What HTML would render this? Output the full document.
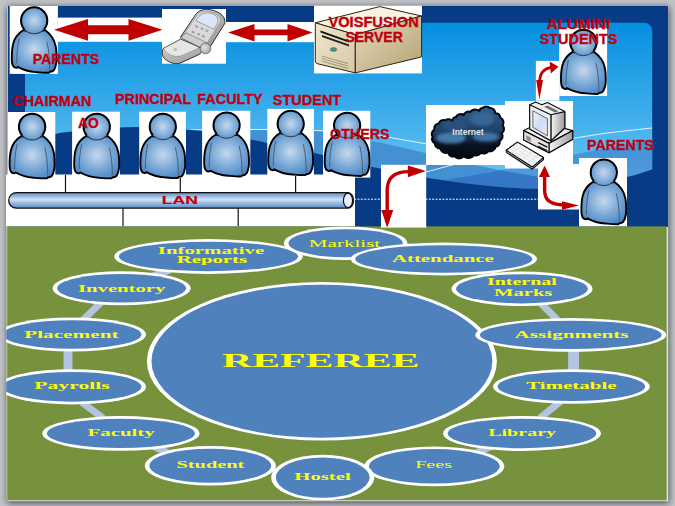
<!DOCTYPE html>
<html>
<head>
<meta charset="utf-8">
<title>Referee</title>
<style>
html,body{margin:0;padding:0;width:675px;height:506px;overflow:hidden;background:#c2c4c7;}
svg{display:block;position:absolute;left:0;top:0;}
.rl{font-family:"Liberation Sans",Arial,sans-serif;font-weight:bold;font-size:14.5px;fill:#c00010;stroke:#c00010;stroke-width:0.35px;}
.yl{font-family:"Liberation Serif","Times New Roman",serif;font-weight:bold;fill:#ffff00;}
</style>
</head>
<body>
<svg width="675" height="506" viewBox="0 0 675 506">
<defs>
  <linearGradient id="sky" gradientUnits="userSpaceOnUse" x1="0" y1="22.8" x2="0" y2="170">
    <stop offset="0" stop-color="#048fe0"/>
    <stop offset="1" stop-color="#62c0f2"/>
  </linearGradient>
  <radialGradient id="pg" cx="0.5" cy="0.45" r="0.6">
    <stop offset="0" stop-color="#c6d8ec"/>
    <stop offset="0.55" stop-color="#7caad8"/>
    <stop offset="1" stop-color="#4a86c4"/>
  </radialGradient>
  <radialGradient id="ph" cx="0.5" cy="0.5" r="0.55">
    <stop offset="0" stop-color="#c6d8ec"/>
    <stop offset="0.7" stop-color="#79a8d6"/>
    <stop offset="1" stop-color="#5690ca"/>
  </radialGradient>
  <linearGradient id="lan" x1="0" y1="0" x2="0" y2="1">
    <stop offset="0" stop-color="#5a8cc8"/>
    <stop offset="0.28" stop-color="#a6c2e5"/>
    <stop offset="0.45" stop-color="#d2e1f4"/>
    <stop offset="0.62" stop-color="#a6c2e5"/>
    <stop offset="1" stop-color="#5a8cc8"/>
  </linearGradient>
  <linearGradient id="cg" x1="0" y1="0" x2="0" y2="1">
    <stop offset="0" stop-color="#2f5f8d"/>
    <stop offset="0.5" stop-color="#1d3f62"/>
    <stop offset="0.75" stop-color="#081320"/>
    <stop offset="1" stop-color="#03070d"/>
  </linearGradient>
  <filter id="cb" x="-20%" y="-20%" width="140%" height="140%"><feGaussianBlur stdDeviation="1.6"/></filter>
  <linearGradient id="gr1" x1="0" y1="0" x2="1" y2="0">
    <stop offset="0" stop-color="#f6f6f6"/><stop offset="1" stop-color="#9a9a9a"/>
  </linearGradient>
  <linearGradient id="gr2" x1="0" y1="0" x2="1" y2="1">
    <stop offset="0" stop-color="#f3f6fb"/><stop offset="0.5" stop-color="#ccdcf2"/><stop offset="1" stop-color="#e8eef8"/>
  </linearGradient>
  <linearGradient id="sv1" x1="0" y1="0" x2="1" y2="1">
    <stop offset="0" stop-color="#e6dbbd"/><stop offset="1" stop-color="#b5a274"/>
  </linearGradient>
  <linearGradient id="sv2" x1="0" y1="0" x2="1" y2="1">
    <stop offset="0" stop-color="#f0e7cf"/><stop offset="1" stop-color="#d6c8a4"/>
  </linearGradient>
  <linearGradient id="phg1" x1="0" y1="0" x2="1" y2="1">
    <stop offset="0" stop-color="#dcdcdc"/><stop offset="1" stop-color="#8f8f8f"/>
  </linearGradient>
  <linearGradient id="phg2" x1="0" y1="0" x2="0.6" y2="1">
    <stop offset="0" stop-color="#d9d9d9"/><stop offset="1" stop-color="#a2a2a2"/>
  </linearGradient>
  <radialGradient id="phg3" cx="0.4" cy="0.4" r="0.7">
    <stop offset="0" stop-color="#e2e2e2"/><stop offset="1" stop-color="#9c9c9c"/>
  </radialGradient>
  <filter id="sh" x="-5%" y="-5%" width="110%" height="110%">
    <feGaussianBlur stdDeviation="3.6"/>
  </filter>
  <clipPath id="bclip"><rect x="6.2" y="226.2" width="660.6" height="274.3"/></clipPath>
  <g id="person">
    <path d="M13,24 C8,27 4,32 2.6,38 C1.4,43 1.2,48 1.3,53.6 C1.4,58.4 2.8,61.2 5.6,61.3 C6.4,61.3 6.9,60.9 7.3,60.4 C12,63 18,65.1 25.3,65.6 C30,66 34,66.4 38.2,66.3 C38.9,66.2 39.3,65.6 39.6,65 C42.2,65.6 44.1,63.4 45.1,59.6 C46.1,56.6 46.2,53.6 46.1,51.6 C46,46 45.8,42 45.1,40 C44,34 40,28 34.5,24 C30,25.5 18,25.5 13,24 Z" fill="url(#pg)" stroke="#000" stroke-width="1.9" stroke-linejoin="round"/>
    <path d="M8.7,32.2 C7,40 6.2,48 6.3,57" fill="none" stroke="#4c5564" stroke-width="0.9"/>
    <path d="M36.3,35.4 C38.5,44 39.2,54 39.2,63" fill="none" stroke="#4c5564" stroke-width="0.9"/>
    <circle cx="23.7" cy="14.7" r="13.1" fill="url(#ph)" stroke="#33383f" stroke-width="1"/>
    <path d="M13.73,23.2 A13.1,13.1 0 1 1 33.67,23.2" fill="none" stroke="#000" stroke-width="2"/>
  </g>
</defs>

<!-- outer shadow -->
<rect x="7" y="7" width="662" height="496" fill="#454950" filter="url(#sh)"/>
<rect x="7.4" y="6" width="660.8" height="495.2" fill="#dfe3e7"/>

<!-- ================= TOP PANEL ================= -->
<rect x="8" y="6" width="660" height="221" fill="#083b86"/>
<path d="M25,22.8 H644.2 A8,8 0 0 1 652.2,30.8 V200 H25 Z" fill="url(#sky)"/>

<!-- waves -->
<g id="waves">
  <path d="M186.0,130.3 C196.7,130.2 228.7,129.9 250.0,130.0 C271.3,130.1 298.2,130.2 314.0,131.0 C329.8,131.8 335.7,133.4 345.0,135.0 C354.3,136.6 360.8,138.8 370.0,140.8 C379.2,142.8 390.7,144.9 400.0,147.0 C409.3,149.1 417.7,151.2 426.0,153.2 C434.3,155.2 441.8,157.0 450.0,159.0 C458.2,161.0 465.8,163.0 475.0,165.0 C484.2,167.0 494.5,169.0 505.0,171.0 C515.5,173.0 528.8,175.3 538.0,177.0 C547.2,178.7 553.0,179.8 560.0,181.0 C567.0,182.2 576.7,183.5 580.0,184.0 L580,227 L186,227 Z" fill="#4390d3"/>
  <path d="M440.0,181.0 C441.7,180.7 442.7,180.5 450.0,179.3 C457.3,178.1 476.2,175.0 484.0,173.6 C491.8,172.2 488.5,172.7 497.0,170.9 C505.5,169.1 522.3,165.7 535.0,163.0 C547.7,160.3 560.5,157.4 573.0,154.8 C585.5,152.2 596.8,150.1 610.0,147.5 C623.2,144.9 645.0,140.7 652.0,139.3 L652,227 L440,227 Z" fill="#193ea4" fill-opacity="0.3"/>
  <path d="M186.0,130.0 C191.7,129.9 209.3,129.7 220.0,129.6 C230.7,129.5 239.2,129.5 250.0,129.5 C260.8,129.5 274.3,129.6 285.0,129.8 C295.7,130.0 304.0,130.2 314.0,130.5 C324.0,130.8 335.7,131.1 345.0,131.8 C354.3,132.5 362.7,133.6 370.0,134.5 C377.3,135.4 379.5,135.8 388.8,137.3 C398.1,138.9 415.0,142.0 426.0,143.8 C437.0,145.6 446.0,146.7 455.0,148.0 C464.0,149.3 472.5,150.5 480.0,151.5 C487.5,152.5 496.7,153.6 500.0,154.0" fill="none" stroke="#fff" stroke-width="0.9" opacity="0.95"/>
  <path d="M426.0,172.0 C430.4,170.8 443.4,167.2 452.4,165.0 C461.4,162.8 468.7,161.0 480.0,158.5 C491.3,156.0 508.3,152.6 520.0,150.0 C531.7,147.4 541.2,144.9 550.0,143.0 C558.8,141.1 563.0,140.1 573.0,138.4 C583.0,136.7 596.8,134.4 610.0,132.7 C623.2,131.0 645.0,128.8 652.0,128.0" fill="none" stroke="#fff" stroke-width="0.9" opacity="0.95"/>
  <path d="M8.0,150.0 C11.7,148.5 22.2,143.7 30.0,141.0 C37.8,138.3 48.0,135.6 55.0,134.0 C62.0,132.4 64.5,132.4 72.0,131.5 C79.5,130.6 92.0,129.2 100.0,128.5 C108.0,127.8 113.5,127.8 120.0,127.5 C126.5,127.2 131.5,127.0 139.0,127.0 C146.5,127.0 157.2,127.4 165.0,127.8 C172.8,128.2 179.8,129.0 186.0,129.5 C192.2,130.0 195.5,130.2 202.0,131.0 C208.5,131.8 217.0,133.1 225.0,134.5 C233.0,135.9 243.0,137.9 250.0,139.3 C257.0,140.7 260.3,141.5 267.0,143.0 C273.7,144.5 282.2,146.8 290.0,148.5 C297.8,150.2 308.5,151.9 314.0,153.0 C319.5,154.1 317.8,153.8 323.0,155.0 C328.2,156.2 337.2,158.1 345.0,160.0 C352.8,161.9 363.9,165.0 370.0,166.5 C376.1,168.0 376.5,167.8 381.5,168.8 C386.5,169.8 392.6,171.1 400.0,172.5 C407.4,173.9 416.8,175.9 426.0,177.5 C435.2,179.1 445.3,180.7 455.0,182.0 C464.7,183.3 474.8,184.6 484.0,185.6 C493.2,186.6 501.0,187.3 510.0,187.8 C519.0,188.3 526.3,189.1 538.0,188.7 C549.7,188.3 565.2,187.4 580.0,185.5 C594.8,183.6 615.0,179.7 627.0,177.0 C639.0,174.3 645.2,171.5 652.0,169.5 C658.8,167.5 665.3,165.8 668.0,165.0 L668,227 L8,227 Z" fill="#083b86"/>
  <line x1="354" y1="199.2" x2="540" y2="199.2" stroke="#fff" stroke-width="1" stroke-dasharray="2,1.4"/>
</g>

<!-- left dark column & top dark band are background -->
<rect x="8" y="42" width="17" height="70" fill="#083b86"/>

<!-- white boxes -->
<g fill="#fff">
  <rect x="9.7" y="6" width="48.2" height="67.9"/>
  <rect x="58" y="17.6" width="104" height="24.2"/>
  <rect x="162" y="9" width="64" height="54.7"/>
  <rect x="226" y="22" width="88" height="20.2"/>
  <rect x="314" y="5.7" width="108" height="67.7"/>
  <!-- people row -->
  <rect x="8" y="112" width="47.3" height="64"/>
  <rect x="72.1" y="111.7" width="47.8" height="65"/>
  <rect x="139.2" y="111.7" width="46.8" height="65"/>
  <rect x="202.1" y="110.8" width="48.2" height="65"/>
  <rect x="267.3" y="108.9" width="46.6" height="67"/>
  <rect x="323.1" y="110.8" width="47.2" height="66.8"/>
  <!-- LAN area -->
  <rect x="6" y="174.5" width="349" height="52"/>
  <!-- arrows / net -->
  <rect x="381" y="164.8" width="45.2" height="62.5"/>
  <rect x="426" y="105" width="79" height="60"/>
  <rect x="505" y="101" width="68" height="67.5"/>
  <rect x="538" y="164" width="41" height="45.5"/>
  <rect x="535.9" y="60.9" width="23.5" height="39.8"/>
  <rect x="559.2" y="27.9" width="47.9" height="68.1"/>
  <rect x="579" y="158" width="48" height="68.5"/>
</g>

<!-- LAN bar -->
<g>
  <line x1="65.5" y1="175" x2="65.5" y2="192" stroke="#111" stroke-width="1.2"/>
  <line x1="180.3" y1="178" x2="180.3" y2="192" stroke="#111" stroke-width="1.2"/>
  <line x1="295.6" y1="176" x2="295.6" y2="192" stroke="#111" stroke-width="1.2"/>
  <line x1="123" y1="208" x2="123" y2="226" stroke="#111" stroke-width="1.2"/>
  <line x1="238.2" y1="208" x2="238.2" y2="226" stroke="#111" stroke-width="1.2"/>
  <path d="M16.5,192.6 H348 A5.5,7.8 0 0 1 348,208.2 H16.5 A7.8,7.8 0 0 1 16.5,192.6 Z" fill="url(#lan)" stroke="#111" stroke-width="1.3"/>
  <ellipse cx="348" cy="200.4" rx="4.6" ry="7.2" fill="#e6eefc" stroke="#111" stroke-width="1.2"/>
  <text x="161.8" y="203.6" class="rl" style="font-size:10.6px;stroke-width:0.15px" textLength="36" lengthAdjust="spacingAndGlyphs">LAN</text>
</g>

<!-- persons -->
<use href="#person" transform="translate(10.5,5.7) scale(1.000,1.012)"/>
<use href="#person" transform="translate(8.3,112.1) scale(1.005,1.000)"/>
<use href="#person" transform="translate(72.9,112.1) scale(1.005,1.000)"/>
<use href="#person" transform="translate(139.1,112.1) scale(1.000,0.995)"/>
<use href="#person" transform="translate(202.9,110.8) scale(1.000,0.990)"/>
<use href="#person" transform="translate(267.0,109.2) scale(1.000,0.995)"/>
<use href="#person" transform="translate(323.4,111.1) scale(1.000,0.978)"/>
<use href="#person" transform="translate(559.7,28.1) scale(1.000,0.993)"/>
<use href="#person" transform="translate(580.1,157.9) scale(1.000,1.000)"/>

<!-- arrows -->
<g fill="#c00000">
  <path d="M54,29.7 L88,18.9 L88,25.2 L128.5,25.2 L128.5,18.9 L162.5,29.7 L128.5,40.8 L128.5,34.2 L88,34.2 L88,40.8 Z"/>
  <path d="M228,32.4 L254.5,24 L254.5,29.6 L287.5,29.6 L287.5,24 L312.5,32.4 L287.5,41.5 L287.5,35.3 L254.5,35.3 L254.5,41.5 Z"/>
  <!-- bent arrow 1 -->
  <path d="M387.2,227 L381.2,210 L393.3,210 Z"/>
  <path d="M425.9,171 L407.9,165.5 L407.9,177.3 Z"/>
  <!-- alumni arrow -->
  <path d="M539.4,99.4 L536.2,80 L543,80 Z"/>
  <path d="M558.5,66.7 L549.6,61.6 L550.8,73.4 Z"/>
  <!-- computer-parents arrow -->
  <path d="M544.6,165.6 L538.9,176.9 L550,176.9 Z"/>
  <path d="M579,205.4 L562,201.3 L562,209.7 Z"/>
</g>
<g fill="none" stroke="#c00000" stroke-width="3.4">
  <path d="M387.2,211 L387.2,190 C387.2,177 395,171.6 409,171.6"/>
  <path d="M539.6,81 C539.8,74.5 542,69 551,67.3" stroke-width="2.7"/>
  <path d="M544.6,176 L544.6,190 C544.6,201 551,204.6 564,205" stroke-width="3.4"/>
</g>

<!-- phone -->
<g id="phone" transform="translate(155,0) scale(0.1384)" stroke-linejoin="round">
  <path d="M58,352 L185,283 L335,345 L338,372 L322,392 L178,458 C140,468 80,445 60,412 C50,392 50,366 58,352 Z" fill="url(#phg2)" stroke="#2c2c2c" stroke-width="7"/>
  <path d="M62,350 L185,285 L325,343 L205,398 C150,420 88,400 62,350 Z" fill="#e6e6e6" stroke="#6a6a6a" stroke-width="3"/>
  <path d="M183,270 L290,110 C315,72 358,60 410,72 C472,88 515,122 503,172 L402,332 L330,347 Z" fill="url(#phg1)" stroke="#2c2c2c" stroke-width="7"/>
  <path d="M200,262 L302,114 C326,82 360,76 400,86 C450,99 480,126 470,160 L377,308 L332,328 Z" fill="#dadada" stroke="#7a7a7a" stroke-width="3"/>
  <path d="M296,150 C318,104 360,84 410,97 C452,112 462,140 447,175 L426,211 Z" fill="#dbe7f8" stroke="#5a5a5a" stroke-width="3.5"/>
  <path d="M185,272 L225,237 L372,307 L335,346 Z" fill="#cecece" stroke="#4a4a4a" stroke-width="3.5"/>
  <circle cx="365" cy="350" r="39" fill="url(#phg3)" stroke="#3a3a3a" stroke-width="4"/>
  <g fill="#9f9f9f" stroke="none">
    <rect x="290" y="185" width="22" height="14" transform="rotate(25 300 190)"/>
    <rect x="330" y="200" width="22" height="14" transform="rotate(25 340 205)"/>
    <rect x="365" y="215" width="22" height="14" transform="rotate(25 375 220)"/>
    <rect x="265" y="225" width="22" height="14" transform="rotate(25 275 230)"/>
    <rect x="305" y="240" width="22" height="14" transform="rotate(25 315 245)"/>
    <rect x="340" y="255" width="22" height="14" transform="rotate(25 350 260)"/>
  </g>
  <circle cx="147" cy="358" r="8" fill="none" stroke="#6a6a6a" stroke-width="3.5"/>
</g>

<!-- server -->
<g id="server" stroke="#2d2416" stroke-width="1" stroke-linejoin="round">
  <path d="M315.3,22.8 L379.7,6.6 L421.6,16 L355.3,34.7 Z" fill="#f8f2e1"/>
  <path d="M315.3,22.8 L355.3,34.7 L355.3,72.9 L317,63.6 Q315.3,63 315.3,61 Z" fill="url(#sv2)"/>
  <path d="M355.3,34.7 L421.6,16 L421.6,56.9 L355.3,72.9 Z" fill="url(#sv1)"/>
  <path d="M320.5,30.5 L348.5,40.5 L349,42.5 L320.5,32.5 Z" fill="#111" stroke="none"/>
  <path d="M322,35 L349,44.5 L349,46.5 L322,37 Z" fill="#222" stroke="none"/>
  <ellipse cx="333.5" cy="49.5" rx="3.2" ry="1.8" fill="#3fa08a" stroke="#245" stroke-width="0.6"/>
  <g stroke="#8c7c5a" stroke-width="0.7" fill="none">
    <path d="M321.5,56 L348,63.5"/><path d="M321.5,58.5 L348,66"/><path d="M321.5,61 L348,68.5"/>
  </g>
</g>

<!-- cloud -->
<g id="cloud">
  <path transform="translate(467.7,132.3) scale(0.945,0.93) translate(-467.7,-132.3)" d="M430.6,137.3 A5.2,5.2 0 0 1 432.4,129.7 A5.5,5.5 0 0 1 437.2,122.8 A5.1,5.1 0 0 1 444.1,119.4 A5.1,5.1 0 0 1 451.7,120.7 A3.9,3.9 0 0 1 455.2,115.9 A5.7,5.7 0 0 1 463.5,113.8 A5.1,5.1 0 0 1 470.4,110.4 A6.4,6.4 0 0 1 480.1,109.7 A3.2,3.2 0 0 1 483.5,106.2 A5.0,5.0 0 0 1 491.1,106.2 A5.2,5.2 0 0 1 496.7,111.8 A4.8,4.8 0 0 1 502.2,116.6 A5.7,5.7 0 0 1 504.7,124.9 A5.5,5.5 0 0 1 503.6,133.2 A5.7,5.7 0 0 1 501.5,141.5 A4.9,4.9 0 0 1 497.3,147.7 A5.9,5.9 0 0 1 489.7,152.5 A5.6,5.6 0 0 1 481.4,153.9 A4.9,4.9 0 0 1 474.5,156.7 A7.3,7.3 0 0 1 463.5,158.1 A6.4,6.4 0 0 1 453.8,158.1 A5.3,5.3 0 0 1 446.9,153.9 A6.1,6.1 0 0 1 438.6,149.8 A5.2,5.2 0 0 1 433.1,144.2 A4.8,4.8 0 0 1 430.6,137.3 Z" fill="url(#cg)" stroke="#04080e" stroke-width="2.2" stroke-linejoin="round"/>
  <g filter="url(#cb)">
    <ellipse cx="451" cy="138" rx="15" ry="5.5" fill="#4a86bb" opacity="0.85"/>
    <ellipse cx="486" cy="137" rx="13" ry="4.5" fill="#4a86bb" opacity="0.8"/>
    <ellipse cx="482" cy="119" rx="12" ry="7" fill="#3d6d9d" opacity="0.75"/>
    <ellipse cx="455" cy="126" rx="12" ry="5" fill="#2c5580" opacity="0.7"/>
  </g>
  <text x="452.3" y="134.6" style="font-family:'Liberation Sans',Arial,sans-serif;font-weight:bold;font-size:8.5px;fill:#e4e9ef" textLength="31.2" lengthAdjust="spacingAndGlyphs">Internet</text>
</g>

<!-- computer -->
<g id="computer" stroke="#0c0c0c" stroke-width="1.1" stroke-linejoin="round">
  <!-- base -->
  <path d="M523.7,130.6 L541,122 L572.7,130.6 L572.7,139.3 L549,152.7 L523.7,140 Z" fill="#ededed"/>
  <path d="M549,143.2 L572.7,130.6 L572.7,139.3 L549,152.7 Z" fill="url(#gr1)"/>
  <path d="M523.7,130.6 L549,143.2 L549,152.7 L523.7,140 Z" fill="#e2e2e2"/>
  <path d="M523.7,130.6 L549,143.2 L572.7,130.6" fill="none"/>
  <path d="M526.3,135.3 L530.8,137.6 L530.8,142 L526.3,139.7 Z" fill="#8d8d8d" stroke="none"/>
  <path d="M538.2,142.6 L547.3,147.2 M538.2,146.3 L547.3,150.9" stroke="#1a1a1a" stroke-width="1.5" fill="none"/>
  <!-- monitor housing -->
  <path d="M529.7,104.8 L535.6,102.1 L541.9,104.8 L547.4,102.6 L564.8,111.6 L564.8,128 L550.9,140.8 L529.7,129 Z" fill="#f0f0f0"/>
  <path d="M550.9,114.8 L564.8,111.6 L564.8,128 L556,136 L550.9,140.8 Z" fill="url(#gr1)"/>
  <path d="M547.6,105.6 L558.5,111.2 L555,112.5 L544,106.8 Z" fill="#6e6e6e" stroke="none"/>
  <!-- monitor front -->
  <path d="M529.7,104.8 L550.9,114.8 L550.9,140.8 L529.7,129 Z" fill="#efefef"/>
  <path d="M532.9,110.8 L547.4,118.7 L547.4,135.8 L532.9,127.4 Z" fill="url(#gr2)" stroke="#444" stroke-width="0.8"/>
  <circle cx="545.2" cy="137.6" r="0.8" fill="#3a6" stroke="#222" stroke-width="0.4"/>
  <!-- keyboard -->
  <path d="M506.3,150.3 L517.4,142.1 L543.5,157.5 L543.5,159.6 L532.4,169.2 L506.3,152.4 Z" fill="#b5b5b5"/>
  <path d="M506.3,150.3 L517.4,142.1 L543.5,157.5 L532.4,167 Z" fill="#f5f5f5"/>
  <g stroke="#d0d0d0" stroke-width="0.5" fill="none">
    <path d="M509,148.3 L535.2,164.6 M511.8,146.2 L538,162.3 M514.6,144.2 L540.8,159.9"/>
    <path d="M511.5,153.4 L522.6,145.2 M516.7,156.6 L527.8,148.3 M521.9,159.8 L533,151.4 M527.2,163.2 L538.3,154.5"/>
  </g>
</g>

<!-- labels -->
<g class="rl">
  <text x="32.7" y="64.0" textLength="66.6" lengthAdjust="spacingAndGlyphs">PARENTS</text>
  <text x="13.3" y="106.3" textLength="78.2" lengthAdjust="spacingAndGlyphs">CHAIRMAN</text>
  <text x="78.0" y="128.3" textLength="20.6" lengthAdjust="spacingAndGlyphs">AO</text>
  <text x="115.0" y="103.9" textLength="76.4" lengthAdjust="spacingAndGlyphs">PRINCIPAL</text>
  <text x="197.3" y="103.9" textLength="65.4" lengthAdjust="spacingAndGlyphs">FACULTY</text>
  <text x="272.8" y="105.1" textLength="68.4" lengthAdjust="spacingAndGlyphs">STUDENT</text>
  <text x="330.1" y="139.1" textLength="59.4" lengthAdjust="spacingAndGlyphs">OTHERS</text>
  <text x="328.4" y="26.9" textLength="90.4" lengthAdjust="spacingAndGlyphs">VOISFUSION</text>
  <text x="345.4" y="42.1" textLength="57.4" lengthAdjust="spacingAndGlyphs">SERVER</text>
  <text x="546.7" y="29.0" textLength="63.6" lengthAdjust="spacingAndGlyphs">ALUMINI</text>
  <text x="539.7" y="43.8" textLength="77.7" lengthAdjust="spacingAndGlyphs">STUDENTS</text>
  <text x="587.0" y="150.0" textLength="66.8" lengthAdjust="spacingAndGlyphs">PARENTS</text>
</g>

<!-- ================= BOTTOM PANEL ================= -->
<g id="bottom" clip-path="url(#bclip)">
  <rect x="6.2" y="226.2" width="660.6" height="274.3" fill="#76923c"/>
  <rect x="6.2" y="226.2" width="1.1" height="274.3" fill="#ffffff" fill-opacity="0.55"/>
  <g stroke="#b4c4e0" stroke-width="7" fill="none">
    <line x1="170" y1="270" x2="150" y2="277"/>
    <line x1="101.5" y1="302" x2="82" y2="321"/>
    <line x1="68" y1="347" x2="68" y2="373" stroke-width="9"/>
    <line x1="82" y1="402.5" x2="103" y2="418"/>
    <line x1="153" y1="446" x2="168" y2="453"/>
    <line x1="541" y1="303.5" x2="557.5" y2="320"/>
    <line x1="573.6" y1="349" x2="573.6" y2="371" stroke-width="11"/>
    <line x1="560.5" y1="401.5" x2="540" y2="418"/>
    <line x1="492" y1="446" x2="476" y2="453"/>
  </g>
  <ellipse cx="321.9" cy="361.2" rx="175.0" ry="79.2" fill="#fff"/><ellipse cx="321.9" cy="361.2" rx="170.4" ry="76.5" fill="#4f81bd"/>
  <ellipse cx="208.5" cy="256.5" rx="94.2" ry="17.4" fill="#fff"/><ellipse cx="208.5" cy="256.5" rx="89.6" ry="14.7" fill="#4f81bd"/>
  <ellipse cx="345.6" cy="243.2" rx="61.7" ry="16.7" fill="#fff"/><ellipse cx="345.6" cy="243.2" rx="57.1" ry="14.0" fill="#4f81bd"/>
  <ellipse cx="443.8" cy="259.0" rx="93.2" ry="16.4" fill="#fff"/><ellipse cx="443.8" cy="259.0" rx="88.6" ry="13.7" fill="#4f81bd"/>
  <ellipse cx="121.6" cy="288.3" rx="69.0" ry="17.0" fill="#fff"/><ellipse cx="121.6" cy="288.3" rx="64.4" ry="14.3" fill="#4f81bd"/>
  <ellipse cx="522.0" cy="288.8" rx="70.5" ry="17.3" fill="#fff"/><ellipse cx="522.0" cy="288.8" rx="65.9" ry="14.6" fill="#4f81bd"/>
  <ellipse cx="72.0" cy="334.5" rx="74.0" ry="17.0" fill="#fff"/><ellipse cx="72.0" cy="334.5" rx="69.4" ry="14.3" fill="#4f81bd"/>
  <ellipse cx="570.8" cy="334.9" rx="95.5" ry="16.8" fill="#fff"/><ellipse cx="570.8" cy="334.9" rx="90.9" ry="14.1" fill="#4f81bd"/>
  <ellipse cx="72.0" cy="386.8" rx="74.0" ry="17.6" fill="#fff"/><ellipse cx="72.0" cy="386.8" rx="69.4" ry="14.9" fill="#4f81bd"/>
  <ellipse cx="571.4" cy="386.5" rx="78.4" ry="17.3" fill="#fff"/><ellipse cx="571.4" cy="386.5" rx="73.8" ry="14.6" fill="#4f81bd"/>
  <ellipse cx="120.9" cy="433.4" rx="78.6" ry="17.3" fill="#fff"/><ellipse cx="120.9" cy="433.4" rx="74.0" ry="14.6" fill="#4f81bd"/>
  <ellipse cx="522.0" cy="433.5" rx="78.9" ry="17.4" fill="#fff"/><ellipse cx="522.0" cy="433.5" rx="74.3" ry="14.7" fill="#4f81bd"/>
  <ellipse cx="210.3" cy="465.7" rx="65.5" ry="19.7" fill="#fff"/><ellipse cx="210.3" cy="465.7" rx="60.9" ry="17.0" fill="#4f81bd"/>
  <ellipse cx="434.3" cy="466.3" rx="70.0" ry="19.9" fill="#fff"/><ellipse cx="434.3" cy="466.3" rx="65.4" ry="17.2" fill="#4f81bd"/>
  <ellipse cx="322.7" cy="477.6" rx="51.5" ry="22.9" fill="#fff"/><ellipse cx="322.7" cy="477.6" rx="46.9" ry="20.2" fill="#4f81bd"/>
  <g class="yl">
    <text x="222.0" y="366.6" style="font-size:19.2px;font-weight:bold" textLength="197.5" lengthAdjust="spacingAndGlyphs">REFEREE</text>
    <text x="157.8" y="254.0" style="font-size:9.7px;font-weight:bold" textLength="106.4" lengthAdjust="spacingAndGlyphs">Informative</text>
    <text x="176.7" y="263.4" style="font-size:9.7px;font-weight:bold" textLength="70.4" lengthAdjust="spacingAndGlyphs">Reports</text>
    <text x="308.8" y="246.7" style="font-size:9.7px;font-weight:normal" textLength="71.4" lengthAdjust="spacingAndGlyphs">Marklist</text>
    <text x="391.9" y="261.6" style="font-size:9.7px;font-weight:bold" textLength="102.0" lengthAdjust="spacingAndGlyphs">Attendance</text>
    <text x="78.0" y="291.5" style="font-size:9.7px;font-weight:bold" textLength="87.4" lengthAdjust="spacingAndGlyphs">Inventory</text>
    <text x="487.0" y="285.4" style="font-size:9.7px;font-weight:bold" textLength="69.8" lengthAdjust="spacingAndGlyphs">Internal</text>
    <text x="494.0" y="295.5" style="font-size:9.7px;font-weight:bold" textLength="58.4" lengthAdjust="spacingAndGlyphs">Marks</text>
    <text x="24.2" y="337.7" style="font-size:9.7px;font-weight:bold" textLength="94.4" lengthAdjust="spacingAndGlyphs">Placement</text>
    <text x="514.6" y="337.7" style="font-size:9.7px;font-weight:bold" textLength="114.0" lengthAdjust="spacingAndGlyphs">Assignments</text>
    <text x="34.3" y="389.3" style="font-size:9.7px;font-weight:bold" textLength="75.4" lengthAdjust="spacingAndGlyphs">Payrolls</text>
    <text x="526.2" y="389.4" style="font-size:9.7px;font-weight:bold" textLength="90.4" lengthAdjust="spacingAndGlyphs">Timetable</text>
    <text x="87.6" y="436.4" style="font-size:9.7px;font-weight:bold" textLength="67.1" lengthAdjust="spacingAndGlyphs">Faculty</text>
    <text x="488.2" y="436.3" style="font-size:9.7px;font-weight:bold" textLength="67.9" lengthAdjust="spacingAndGlyphs">Library</text>
    <text x="176.5" y="468.4" style="font-size:9.7px;font-weight:bold" textLength="67.9" lengthAdjust="spacingAndGlyphs">Student</text>
    <text x="415.2" y="467.5" style="font-size:9.7px;font-weight:normal" textLength="36.9" lengthAdjust="spacingAndGlyphs">Fees</text>
    <text x="294.3" y="480.3" style="font-size:9.7px;font-weight:bold" textLength="56.4" lengthAdjust="spacingAndGlyphs">Hostel</text>
  </g>
</g>
<rect x="381" y="226" width="45.2" height="1.6" fill="#fff"/>
<path d="M387.2,227.4 L384.5,220 L389.9,220 Z" fill="#c00000"/>
</svg>
</body>
</html>
